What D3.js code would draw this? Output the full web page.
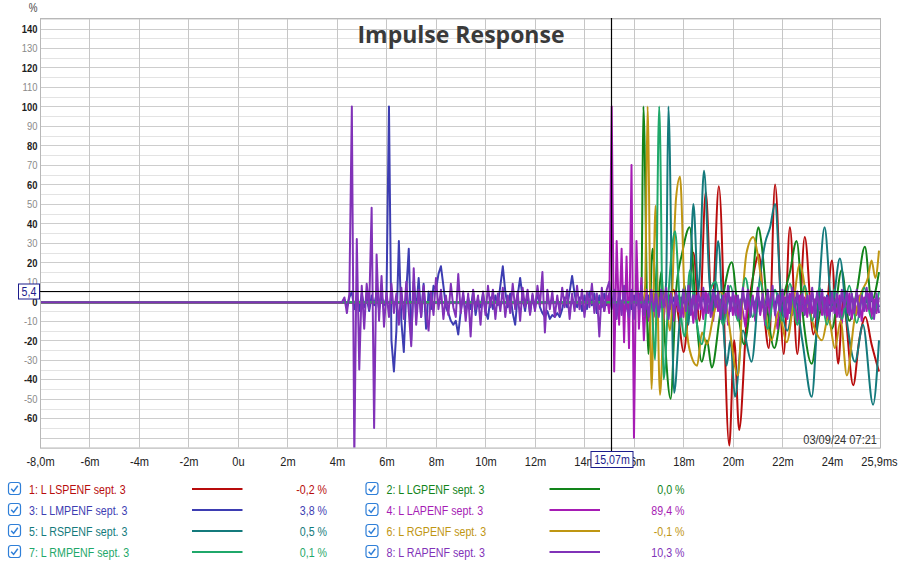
<!DOCTYPE html>
<html><head><meta charset="utf-8">
<script src="https://cdn.jsdelivr.net/npm/d3@7/dist/d3.min.js"></script>
<style>
body{margin:0;background:#fff;}
svg{display:block;}
</style></head><body>
<svg id="chart" width="900" height="563"></svg>
<script>
// ---------------- DATA ----------------
const titleText = "Impulse Response";
const yUnit = "%";
const dateText = "03/09/24 07:21";
const xTickValues = [-8,-6,-4,-2,0,2,4,6,8,10,12,14,16,18,20,22,24,25.9];
const xTickLabels = ["-8,0m","-6m","-4m","-2m","0u","2m","4m","6m","8m","10m","12m","14m","16m","18m","20m","22m","24m","25,9ms"];
const yTickValues = [140,130,120,110,100,90,80,70,60,50,40,30,20,10,0,-10,-20,-30,-40,-50,-60];
const yTickLabels = ["140","130","120","110","100","90","80","70","60","50","40","30","20","10","0","-10","-20","-30","-40","-50","-60"];
const xDomain = [-8, 25.9];
const yDomain = [-75, 145.4];

const seriesNames = ["1: L LSPENF sept. 3","2: L LGPENF sept. 3","3: L LMPENF sept. 3","4: L LAPENF sept. 3",
                     "5: L RSPENF sept. 3","6: L RGPENF sept. 3","7: L RMPENF sept. 3","8: L RAPENF sept. 3"];
const seriesColors = ["#b80c0c","#12841a","#3d3db2","#a61cb4","#147a7c","#bf9612","#1fa86a","#8132b8"];
const cursorReadouts = ["-0,2 %","0,0 %","3,8 %","89,4 %","0,5 %","-0,1 %","0,1 %","10,3 %"];
const cursorTime = 15.07, cursorTimeLabel = "15,07m";
const cursorLevel = 5.4, cursorLevelLabel = "5,4";
const startTime = -8, flatLevel = -0.5;

// dense series, one value every 0.1 ms from their start time
const sampleStep = 0.1;
const s3Start = 4.2;
const s3Values = [
 -0.5,1,-3,2,5,-4,3,-5,
 4,-3,2,-5,3,-2,4,-4,3,-2,
 2,100,-20,-36,-15,31,-10,-26,5,27,
 -20,10,-5,12,-8,9,-14,5,-4,8,
 6,14,18,8,-3,-6,-10,-12,-10,-17,
 -5,3,-6,2,-4,5,-7,1,-3,4,
 -5,-9,2,-4,3,-2,8,18,5,-3,
 4,-6,-12,3,12,2,-5,4,-6,3,
 -4,5,-3,-6,-8,-5,-9,-7,-8,-6,
 -8,-4,2,-3,5,13,4,-3,2,-5,
 3,-4,5,-2,4,-6,3,-3,4,-2,
 4,-3,2,-4,3,-2,4,-3,2,-4,
 3,-2,4,-3,2,-4,3,-2,4,-3,
 2,-3,4,-1,3,-4,2,-2,3,-3,
 1,-4,3,-2,4,-3,2,-1,3,-4,
 2,-2,4,-3,1,-4,3,-2,2,-3,
 3,-1,2,-4,3,-2,4,-3,1,-2,
 4,-3,2,-2,3,-4,1,-3,4,-2,
 2,-4,3,-1,2,-3,4,-2,3,-4,
 1,-3,4,-2,3,-1,2,-4,3,-2,
 3,-2,1,-4,4,-3,2,-2,3,-1,
 2,-4,3,-3,1,-2,4,-3,2,-3];
const s4Start = 14.5;
const s4Values = [
 -1,-4,2,-5,3,
 -6,100,-36,31,-12,27,-21,23,-24,70,
 -70,31,-14,12,-20,6,-10,4,-8,3,
 -7,2,-9,4,-6,1,-10,3,-5,2,
 -8,4,-6,1,-11,3,-4,2,-9,5,
 -6,2,-10,3,-5,1,-8,4,-12,2,
 -7,3,-9,1,-5,-13,2,-6,3,-10,
 4,-7,1,-12,3,-8,2,-5,-14,3,
 -6,2,-9,4,-7,1,-11,3,-5,2,
 -8,3,-6,1,-10,4,-7,2,-9,3,
 -5,1,-8,3,-11,2,-6,4,-9,1,
 -7,3,-10,2,-5,4,-8,1,-6,2];
const s8Start = 4.2;
const s8Values = [
 -0.5,2,-6,4,100,-80,32,-35,
 8,-14,9,-4,48,-65,24,-10,13,-13,
 5,-8,9,-6,4,-12,7,-9,10,-5,
 -23,17,-12,6,-8,8,-6,-15,5,-7,
 12,-4,6,-9,3,-7,9,-3,-8,14,
 -6,5,-10,4,-18,6,-4,3,-12,5,
 -7,8,-3,6,-9,4,-5,7,-8,3,
 -6,9,-4,5,-10,7,-3,6,-7,4,
 -5,8,-2,15,-16,6,-4,5,-8,3,
 -6,7,-3,6,-9,4,-5,8,-4,6,
 -8,5,-3,9,-6,4,-18,7,-5,6,
 10,-4,6,-9,5,-7,8,-3,-8,6,
 -9,5,-4,8,-7,3,-8,6,-5,4,
 -8,6,-3,7,-9,4,-6,5,-2,-8,
 6,-5,8,-7,3,-9,5,-4,7,-6,
 4,-8,6,-3,5,-9,3,-6,8,-5,
 5,-7,3,-9,7,-4,6,-8,2,-6,
 7,-5,4,-9,6,-3,8,-7,3,-5,
 6,-8,4,-6,7,-3,5,-9,4,-7,
 3,-6,7,-8,5,-4,6,-7,2,-9,
 5,-6,4,-8,6,-3,5,-7,4,-6,
 6,-8,3,-5,7,-4,5,-9,4,-6];

// slow series: peaks / troughs (ms, %)
const s1T = [-8,17.3,17.6,17.8,18.0,18.2,18.4,18.65,18.9,19.15,19.43,19.85,20.05,20.25,20.55,20.8,21.05,21.25,21.45,21.7,22.05,22.3,22.6,22.9,23.25,23.5,23.75,24.0,24.25,24.45,24.86,25.1,25.35,25.6,25.9];
const s1V = [-0.5,-0.5,6,-8,-26,-5,25,-10,56,-5,59,-74,-20,-66,-10,12,24,-5,-24,60,-27,38,-27,33,-17,2,-5,21,-32,0,-43,-20,-8,-22,-36];
const s2T = [-8,16.2,16.3,16.38,16.58,16.75,16.95,17.1,17.25,17.48,17.7,17.95,18.25,18.5,18.74,18.95,19.14,19.5,19.95,20.2,20.45,20.75,21.03,21.15,21.4,21.67,22.0,22.3,22.57,22.85,23.18,23.45,23.7,24.0,24.39,24.7,25.0,25.33,25.6,25.9];
const s2V = [-0.5,-0.5,5,100,-27,27,-5,15,-20,-50,5,25,38,-5,-31,-20,-34,-5,20,-5,-22,5,38,30,-5,-24,0,15,31,-10,-32,-10,2,-14,16,-10,5,28,0,15];
const s5T = [-8,17.2,17.3,17.39,17.62,17.85,18.05,18.2,18.4,18.6,18.83,19.05,19.2,19.4,19.6,19.74,19.9,20.08,20.4,20.75,21.05,21.3,21.5,21.7,21.95,22.2,22.5,22.8,23.18,23.45,23.7,24.0,24.32,24.6,24.93,25.25,25.66,25.9];
const s5V = [-0.5,-0.5,10,100,-47,-10,8,-12,50,5,67,10,-5,31,-10,-33,-20,-49,-15,-31,8,30,38,50,0,-15,2,-20,-49,0,38,-2,22,-10,-31,-12,-53,-20];
const s6T = [-8,16.35,16.45,16.55,16.71,16.87,17.05,17.25,17.45,17.7,17.86,18.05,18.25,18.55,18.75,18.95,19.2,19.5,19.75,20.2,20.4,20.55,20.82,21.0,21.25,21.56,21.85,22.17,22.45,22.7,23.0,23.3,23.6,23.85,24.12,24.35,24.6,24.9,25.2,25.45,25.6,25.75,25.9];
const s6V = [-0.5,-0.5,8,100,-45,49,-48,5,-15,53,64,0,-25,-33,-16,-22,-8,5,-5,-38,5,25,33,24,0,-20,-5,-21,0,19,0,-14,-20,-8,-24,-10,-38,-10,5,12,21,12,26];
const s7T = [-8,16.7,16.85,17.02,17.2,17.4,17.66,17.85,18.05,18.26,18.5,18.74,19.0,19.3,19.6,19.9,20.2,20.5,20.8,21.1,21.4,21.7,22.0,22.3,22.6,22.9,23.2,23.5,23.8,24.1,24.4,24.7,25.0,25.3,25.6,25.9];
const s7V = [-0.5,-0.5,-30,100,-40,5,36,0,-18,16,-8,-22,2,10,-12,8,-10,12,-8,10,-14,6,-10,9,-12,8,-10,7,-12,6,-9,8,-11,7,-9,5];

// ---------------- DRAWING ----------------
const svg = d3.select("#chart");
const L = 40, R = 880, T = 18, B = 447.5;
const x = d3.scaleLinear().domain(xDomain).range([L, 879]);
const y = d3.scaleLinear().domain(yDomain).range([B, T]);
const sans = "'Liberation Sans',Arial,sans-serif";
const SQ = 0.82; // horizontal squeeze to mimic a narrow face

function ntext(parent, px, py, str, size, color, anchor, weight){
  return parent.append("text").attr("transform",`translate(${px},${py}) scale(${SQ},1)`)
    .attr("text-anchor",anchor||"start").attr("font-family",sans).attr("font-size",size)
    .attr("font-weight",weight||400).attr("fill",color).text(str);
}

svg.append("rect").attr("width",900).attr("height",563).attr("fill","#fff");

// grid
const grid = svg.append("g");
grid.selectAll("line.h").data(d3.range(-75, 146, 5)).enter().append("line")
  .attr("x1",L).attr("x2",R).attr("y1",d=>Math.round(y(d))+0.5).attr("y2",d=>Math.round(y(d))+0.5)
  .attr("stroke", d=> d%10===0 ? "#cdcdcd" : "#e3e3e3").attr("stroke-width",1);
grid.selectAll("line.v").data(xTickValues.slice(1,-1)).enter().append("line")
  .attr("y1",T).attr("y2",B).attr("x1",d=>Math.round(x(d))+0.5).attr("x2",d=>Math.round(x(d))+0.5)
  .attr("stroke","#c6c6c6").attr("stroke-width",1);
svg.append("rect").attr("x",L+0.5).attr("y",T+0.5).attr("width",R-L).attr("height",B-T)
  .attr("fill","none").attr("stroke","#b8b8b8");

// title
svg.append("text").attr("x",461).attr("y",42.5).attr("text-anchor","middle")
  .attr("font-family","'Open Sans','Noto Sans',sans-serif").attr("font-weight",700).attr("font-size",23)
  .attr("fill","#3a3a3a").text(titleText);

// axes
const yAxis = d3.axisLeft(y).tickValues(yTickValues).tickFormat((d,i)=>yTickLabels[i]).tickSize(0).tickPadding(3);
const gy = svg.append("g").attr("transform",`translate(${L},0)`).call(yAxis);
gy.select(".domain").remove();
gy.selectAll("text").attr("font-family",sans).attr("font-size",11.5)
  .attr("transform",`scale(${SQ},1)`)
  .attr("font-weight",d=> d%20===0 ? 700 : 400)
  .attr("fill",d=> d%20===0 ? "#1e1e1e" : "#8a8a8a");

const xAxis = d3.axisBottom(x).tickValues(xTickValues).tickFormat((d,i)=>xTickLabels[i]).tickSize(0).tickPadding(9);
const gx = svg.append("g").attr("transform",`translate(0,${B})`).call(xAxis);
gx.select(".domain").remove();
gx.selectAll("text").attr("font-family",sans).attr("font-size",13.5).attr("fill","#222")
  .attr("transform",`scale(${SQ},1)`);

ntext(svg, 33, 12, yUnit, 12, "#444", "middle");
ntext(svg, 877, 444, dateText, 13.5, "#333", "end");

// series
svg.append("clipPath").attr("id","clip").append("rect").attr("x",L+1).attr("y",T+1).attr("width",R-L-1).attr("height",B-T-1);
const plot = svg.append("g").attr("clip-path","url(#clip)");

function dense(start, vals){
  return [[startTime, flatLevel]].concat(vals.map((v,i)=>[start + i*sampleStep, v]));
}
function pairs(ts, vs){ return ts.map((t,i)=>[t, vs[i]]); }

const seriesData = [
  {pts: pairs(s1T,s1V), curve: d3.curveMonotoneX},
  {pts: pairs(s2T,s2V), curve: d3.curveMonotoneX},
  {pts: dense(s3Start,s3Values), curve: d3.curveLinear},
  {pts: dense(s4Start,s4Values), curve: d3.curveLinear},
  {pts: pairs(s5T,s5V), curve: d3.curveMonotoneX},
  {pts: pairs(s6T,s6V), curve: d3.curveMonotoneX},
  {pts: pairs(s7T,s7V), curve: d3.curveMonotoneX},
  {pts: dense(s8Start,s8Values), curve: d3.curveLinear}
];
seriesData.forEach((s,i)=>{
  const line = d3.line().x(d=>x(d[0])).y(d=>y(d[1])).curve(s.curve);
  plot.append("path").attr("d",line(s.pts)).attr("fill","none")
    .attr("stroke",seriesColors[i]).attr("stroke-width",2).attr("stroke-linejoin","round");
});

// cursors
const cy = Math.round(y(cursorLevel))+0.5, cx = Math.round(x(cursorTime))+0.5;
svg.append("line").attr("x1",L).attr("x2",R).attr("y1",cy).attr("y2",cy).attr("stroke","#000").attr("stroke-width",1.2);
svg.append("line").attr("x1",cx).attr("x2",cx).attr("y1",T).attr("y2",B+4).attr("stroke","#000").attr("stroke-width",1.2);

svg.append("rect").attr("x",18.5).attr("y",cy-7.5).attr("width",21).attr("height",15)
  .attr("fill","#fff").attr("stroke","#1c1c8c").attr("stroke-width",1);
ntext(svg, 29, cy+4.5, cursorLevelLabel, 13, "#1c1c8c", "middle");
svg.append("rect").attr("x",cx-20.5).attr("y",451.5).attr("width",42).attr("height",16)
  .attr("fill","#fff").attr("stroke","#1c1c8c").attr("stroke-width",1);
ntext(svg, cx+0.5, 464, cursorTimeLabel, 13, "#1c1c8c", "middle");

// legend
const lg = svg.append("g");
seriesNames.forEach((name,i)=>{
  const col = i%2, row = Math.floor(i/2);
  const x0 = 8 + col*357.5, y0 = 489 + row*21;
  const g = lg.append("g").attr("transform",`translate(${x0},${y0})`);
  g.append("rect").attr("x",0.5).attr("y",-6.5).attr("width",12).attr("height",12).attr("rx",2.5)
    .attr("fill","#fff").attr("stroke","#2f7fd8").attr("stroke-width",1.2);
  g.append("path").attr("d","M3.2,-0.3 L5.6,2.4 L9.8,-3.2").attr("fill","none")
    .attr("stroke","#2f7fd8").attr("stroke-width",1.5);
  ntext(g, 21, 4.5, name, 13, seriesColors[i], "start");
  g.append("line").attr("x1",184).attr("x2",234.5).attr("y1",0).attr("y2",0)
    .attr("stroke",seriesColors[i]).attr("stroke-width",2.2);
  ntext(g, 319, 4.5, cursorReadouts[i], 13, seriesColors[i], "end");
});
</script>
</body></html>
